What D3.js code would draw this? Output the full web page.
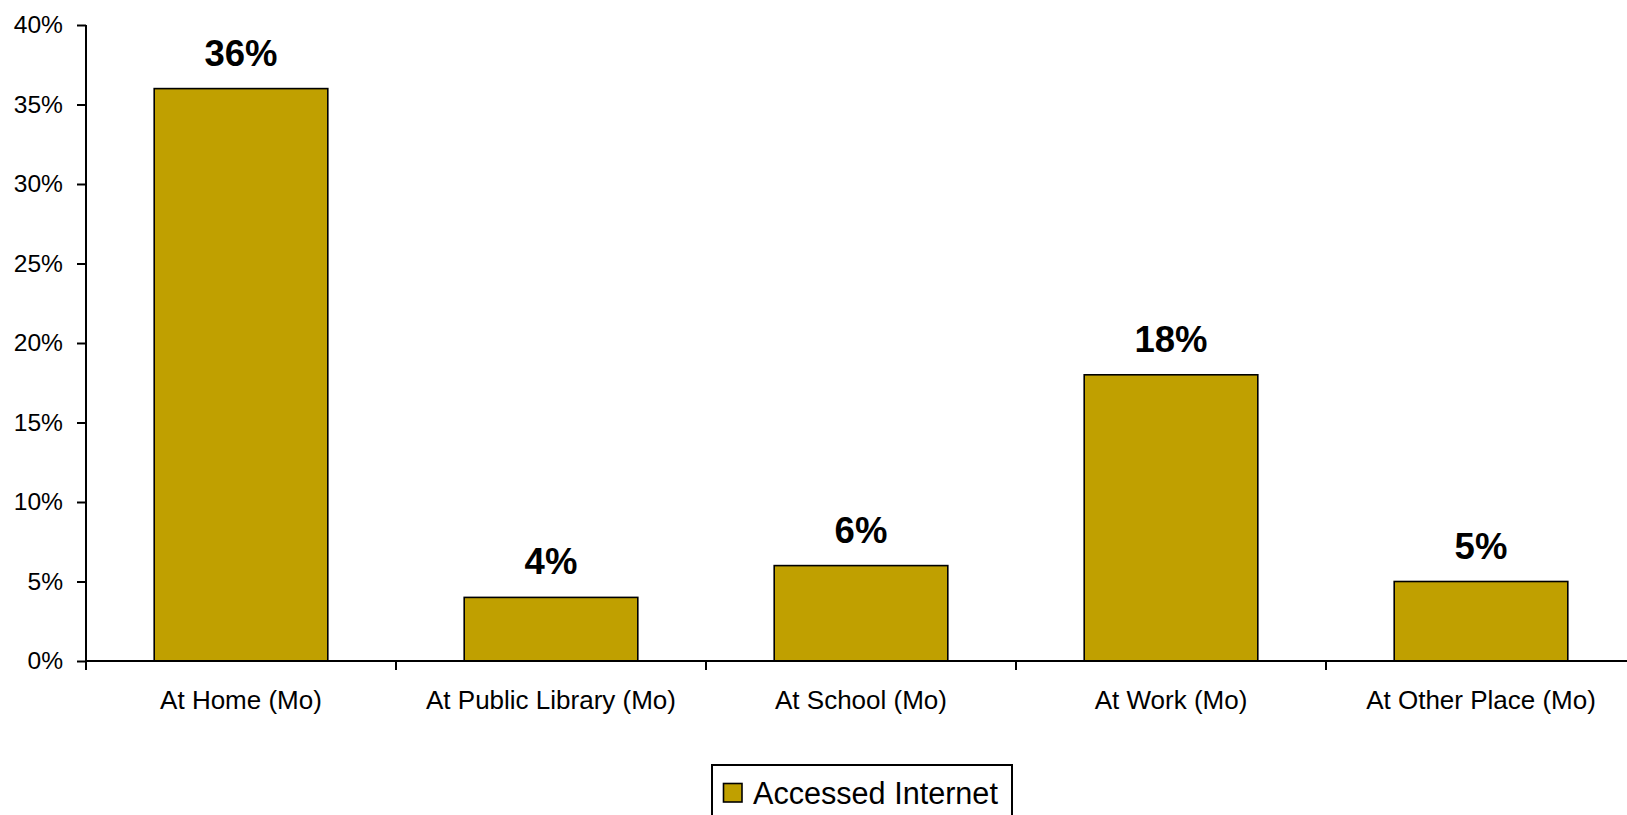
<!DOCTYPE html>
<html><head><meta charset="utf-8">
<script src="https://cdn.jsdelivr.net/npm/d3@7"></script>
<style>
html,body{margin:0;padding:0;background:#fff;}
svg{display:block;font-family:"Liberation Sans",Arial,sans-serif;}
</style></head>
<body><svg id="c" width="1627" height="815"></svg>
<script>
const categories = ["At Home (Mo)", "At Public Library (Mo)", "At School (Mo)", "At Work (Mo)", "At Other Place (Mo)"];
const values = [36, 4, 6, 18, 5];
const yTicks = [0, 5, 10, 15, 20, 25, 30, 35, 40];
const seriesName = "Accessed Internet";

const svg = d3.select("#c");
const mLeft = 86, mTop = 25, mBottom = 661, mRight = 1636;
const barColor = "#C0A000";

const x = d3.scaleBand().domain(categories).range([mLeft, mRight]).paddingInner(0.44).paddingOuter(0.22);
const y = d3.scaleLinear().domain([0, 40]).range([mBottom, mTop]);

// bars
svg.append("g").selectAll("rect").data(values).join("rect")
  .attr("x", (d, i) => x(categories[i]))
  .attr("y", d => y(d))
  .attr("width", x.bandwidth())
  .attr("height", d => y(0) - y(d))
  .attr("fill", barColor)
  .attr("stroke", "#000")
  .attr("stroke-width", 1.6);

// value labels
svg.append("g").selectAll("text").data(values).join("text")
  .attr("x", (d, i) => x(categories[i]) + x.bandwidth() / 2)
  .attr("y", d => y(d) - 23)
  .attr("text-anchor", "middle")
  .attr("font-size", 36.5)
  .attr("font-weight", "bold")
  .attr("fill", "#000")
  .text(d => d + "%");

// y axis
const yAxis = d3.axisLeft(y).tickValues(yTicks).tickFormat(d => d + "%").tickSize(9).tickPadding(14);
const gy = svg.append("g").attr("transform", `translate(${mLeft},0)`).call(yAxis);
gy.select(".domain").attr("d", `M0,${mTop}V${mBottom + 9}`).attr("stroke", "#000").attr("stroke-width", 2);
gy.selectAll(".tick line").attr("stroke", "#000").attr("stroke-width", 2);
gy.selectAll(".tick text").attr("font-size", 24.6).attr("fill", "#000").attr("font-family", "'Liberation Sans',Arial,sans-serif");

// x axis
const xAxis = d3.axisBottom(x).tickSize(0).tickPadding(30);
const gx = svg.append("g").attr("transform", `translate(0,${mBottom})`).call(xAxis);
gx.select(".domain").attr("d", `M${mLeft},0H${mRight}`).attr("stroke", "#000").attr("stroke-width", 2);
gx.selectAll(".tick text").attr("font-size", 26).attr("fill", "#000").attr("font-family", "'Liberation Sans',Arial,sans-serif");
// boundary ticks
const bounds = d3.range(categories.length + 1).map(i => mLeft + i * x.step());
gx.append("g").selectAll("line").data(bounds).join("line")
  .attr("x1", d => d).attr("x2", d => d).attr("y1", 0).attr("y2", 9)
  .attr("stroke", "#000").attr("stroke-width", 2);

// legend
const lg = svg.append("g");
lg.append("rect").attr("x", 712).attr("y", 765).attr("width", 300).attr("height", 60)
  .attr("fill", "#fff").attr("stroke", "#000").attr("stroke-width", 2);
lg.append("rect").attr("x", 723.5).attr("y", 783.5).attr("width", 18.5).attr("height", 18.5)
  .attr("fill", barColor).attr("stroke", "#000").attr("stroke-width", 1.6);
lg.append("text").attr("x", 753).attr("y", 804).attr("font-size", 30.6).attr("fill", "#000").text(seriesName);
</script></body></html>
